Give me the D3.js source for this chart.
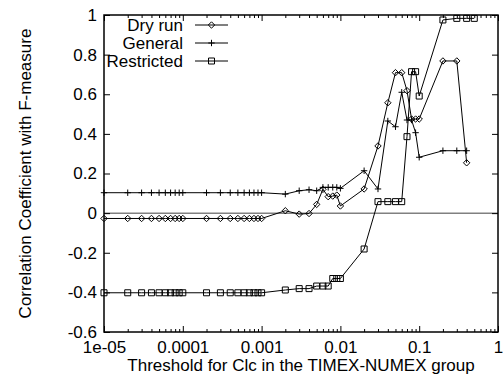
<!DOCTYPE html>
<html>
<head>
<meta charset="utf-8">
<script src="https://cdn.jsdelivr.net/npm/d3@7"></script>
<style>
  body { margin: 0; background: white; }
  text { font-family: "Liberation Sans", Arial, sans-serif; font-size: 17px; fill: black; }
</style>
</head>
<body>
<div id="chart"></div>
<script>

// thresholds on the x axis (log scale)
const thresholds = [
  0.00001, 0.00002, 0.00003, 0.00004, 0.00005, 0.00006, 0.00007, 0.00008, 0.00009,
  0.0001, 0.0002, 0.0003, 0.0004, 0.0005, 0.0006, 0.0007, 0.0008, 0.0009,
  0.001, 0.002, 0.003, 0.004, 0.005, 0.006, 0.007, 0.008, 0.009,
  0.01, 0.02, 0.03, 0.04, 0.05, 0.06, 0.07, 0.08, 0.09,
  0.1, 0.2, 0.3, 0.4, 0.5
];

const dryRun = [
  -0.027, -0.027, -0.027, -0.027, -0.027, -0.027, -0.027, -0.027, -0.027,
  -0.027, -0.027, -0.027, -0.027, -0.027, -0.027, -0.027, -0.027, -0.027,
  -0.027, 0.012, -0.005, -0.002, 0.044, 0.12, 0.083, 0.086, 0.091,
  0.036, 0.122, 0.339, 0.557, 0.709, 0.709, 0.618, 0.475, 0.475,
  0.475, 0.768, 0.768, 0.254
];

const general = [
  0.103, 0.103, 0.103, 0.103, 0.103, 0.103, 0.103, 0.103, 0.103,
  0.103, 0.103, 0.103, 0.103, 0.103, 0.103, 0.103, 0.103, 0.103,
  0.103, 0.096, 0.113, 0.118, 0.113, 0.13, 0.13, 0.13, 0.13,
  0.125, 0.214, 0.122, 0.465, 0.436, 0.61, 0.47, 0.47, 0.406,
  0.282, 0.315, 0.315, 0.315
];

const restricted = [
  -0.402, -0.402, -0.402, -0.402, -0.402, -0.402, -0.402, -0.402, -0.402,
  -0.402, -0.402, -0.402, -0.402, -0.402, -0.402, -0.402, -0.402, -0.402,
  -0.402, -0.388, -0.381, -0.381, -0.368, -0.368, -0.368, -0.33, -0.33,
  -0.33, -0.181, 0.058, 0.058, 0.058, 0.058, 0.386, 0.714, 0.714,
  0.591, 0.975, 0.983, 0.983, 0.983
];

const yTicks = [-0.6, -0.4, -0.2, 0, 0.2, 0.4, 0.6, 0.8, 1];
const yTickLabels = ['-0.6', '-0.4', '-0.2', '0', '0.2', '0.4', '0.6', '0.8', '1'];
const xTicks = [0.00001, 0.0001, 0.001, 0.01, 0.1, 1];
const xTickLabels = ['1e-05', '0.0001', '0.001', '0.01', '0.1', '1'];

const seriesNames = ['Dry run', 'General', 'Restricted'];
const seriesMarks = ['diamond', 'plus', 'square'];

const width = 503, height = 376;
const margin = {top: 15, right: 5, bottom: 44, left: 104};

var svg = d3.select('#chart')
    .append('svg')
    .attr('width', width)
    .attr('height', height)
    .style('background-color', 'white');

var x = d3.scaleLog().domain([0.00001, 1]).range([margin.left, width - margin.right]);
var y = d3.scaleLinear().domain([-0.6, 1]).range([height - margin.bottom, margin.top]);

// minor ticks: 2..9 of each decade
var minorTicks = x.ticks().filter(t => xTicks.indexOf(t) < 0);

// zero axis
svg.append('line')
  .attr('x1', x.range()[0]).attr('x2', x.range()[1])
  .attr('y1', y(0)).attr('y2', y(0))
  .attr('stroke', '#808080')
  .attr('stroke-width', 1.5);

function styleAxis(g) {
  g.select('.domain').remove();
  g.selectAll('line').attr('stroke', 'black').attr('stroke-width', 1);
  g.selectAll('text').attr('font-size', null).attr('font-family', null).attr('fill', 'black');
}

svg.append('g')
  .attr('transform', `translate(${margin.left},0)`)
  .call(d3.axisLeft(y).tickValues(yTicks).tickFormat((d, i) => yTickLabels[i])
        .tickSizeInner(-6).tickSizeOuter(0).tickPadding(7))
  .call(styleAxis);

svg.append('g')
  .attr('transform', `translate(${width - margin.right},0)`)
  .call(d3.axisRight(y).tickValues(yTicks).tickFormat('').tickSizeInner(-6).tickSizeOuter(0))
  .call(styleAxis);

svg.append('g')
  .attr('transform', `translate(0,${height - margin.bottom})`)
  .call(d3.axisBottom(x).tickValues(xTicks).tickFormat((d, i) => xTickLabels[i])
        .tickSizeInner(-6).tickSizeOuter(0).tickPadding(9))
  .call(styleAxis);

svg.append('g')
  .attr('transform', `translate(0,${height - margin.bottom})`)
  .call(d3.axisBottom(x).tickValues(minorTicks).tickFormat('').tickSizeInner(-3).tickSizeOuter(0))
  .call(styleAxis);

svg.append('g')
  .attr('transform', `translate(0,${margin.top})`)
  .call(d3.axisTop(x).tickValues(xTicks).tickFormat('').tickSizeInner(-6).tickSizeOuter(0))
  .call(styleAxis);

svg.append('g')
  .attr('transform', `translate(0,${margin.top})`)
  .call(d3.axisTop(x).tickValues(minorTicks).tickFormat('').tickSizeInner(-3).tickSizeOuter(0))
  .call(styleAxis);

// border
svg.append('rect')
  .attr('x', margin.left).attr('y', margin.top)
  .attr('width', width - margin.right - margin.left)
  .attr('height', height - margin.bottom - margin.top)
  .attr('fill', 'none').attr('stroke', 'black').attr('stroke-width', 1.5);

// axis titles
svg.append('text')
  .attr('x', (x.range()[0] + x.range()[1]) / 2)
  .attr('y', 371)
  .attr('text-anchor', 'middle')
  .text('Threshold for Clc in the TIMEX-NUMEX group');

svg.append('text')
  .attr('transform', `translate(31,${(margin.top + height - margin.bottom) / 2}) rotate(-90)`)
  .attr('text-anchor', 'middle')
  .text('Correlation Coefficient with F-measure');

function markPath(kind) {
  if (kind === 'diamond') return 'M0,-3.2L3.2,0L0,3.2L-3.2,0Z';
  if (kind === 'plus') return 'M-3.2,0H3.2M0,-3.2V3.2';
  return 'M-3,-3H3V3H-3Z';
}

var lineGen = d3.line().x(d => x(d[0])).y(d => y(d[1]));

[dryRun, general, restricted].forEach((vals, s) => {
  var pts = vals.map((v, i) => [thresholds[i], v]);

  svg.append('path')
    .datum(pts)
    .attr('d', lineGen)
    .attr('fill', 'none')
    .attr('stroke', 'black')
    .attr('stroke-width', 1);

  svg.append('g').selectAll('path')
    .data(pts)
    .enter()
    .append('path')
    .attr('transform', d => `translate(${x(d[0])},${y(d[1])})`)
    .attr('d', markPath(seriesMarks[s]))
    .attr('fill', 'none')
    .attr('stroke', 'black')
    .attr('stroke-width', 1);

  // legend entry
  var ly = 25 + s * 18;
  svg.append('text')
    .attr('x', 183).attr('y', ly)
    .attr('dy', '0.35em')
    .attr('text-anchor', 'end')
    .text(seriesNames[s]);
  svg.append('line')
    .attr('x1', 195).attr('x2', 228)
    .attr('y1', ly).attr('y2', ly)
    .attr('stroke', 'black').attr('stroke-width', 1);
  svg.append('path')
    .attr('transform', `translate(211.5,${ly})`)
    .attr('d', markPath(seriesMarks[s]))
    .attr('fill', 'none')
    .attr('stroke', 'black');
});

</script>
</body>
</html>
